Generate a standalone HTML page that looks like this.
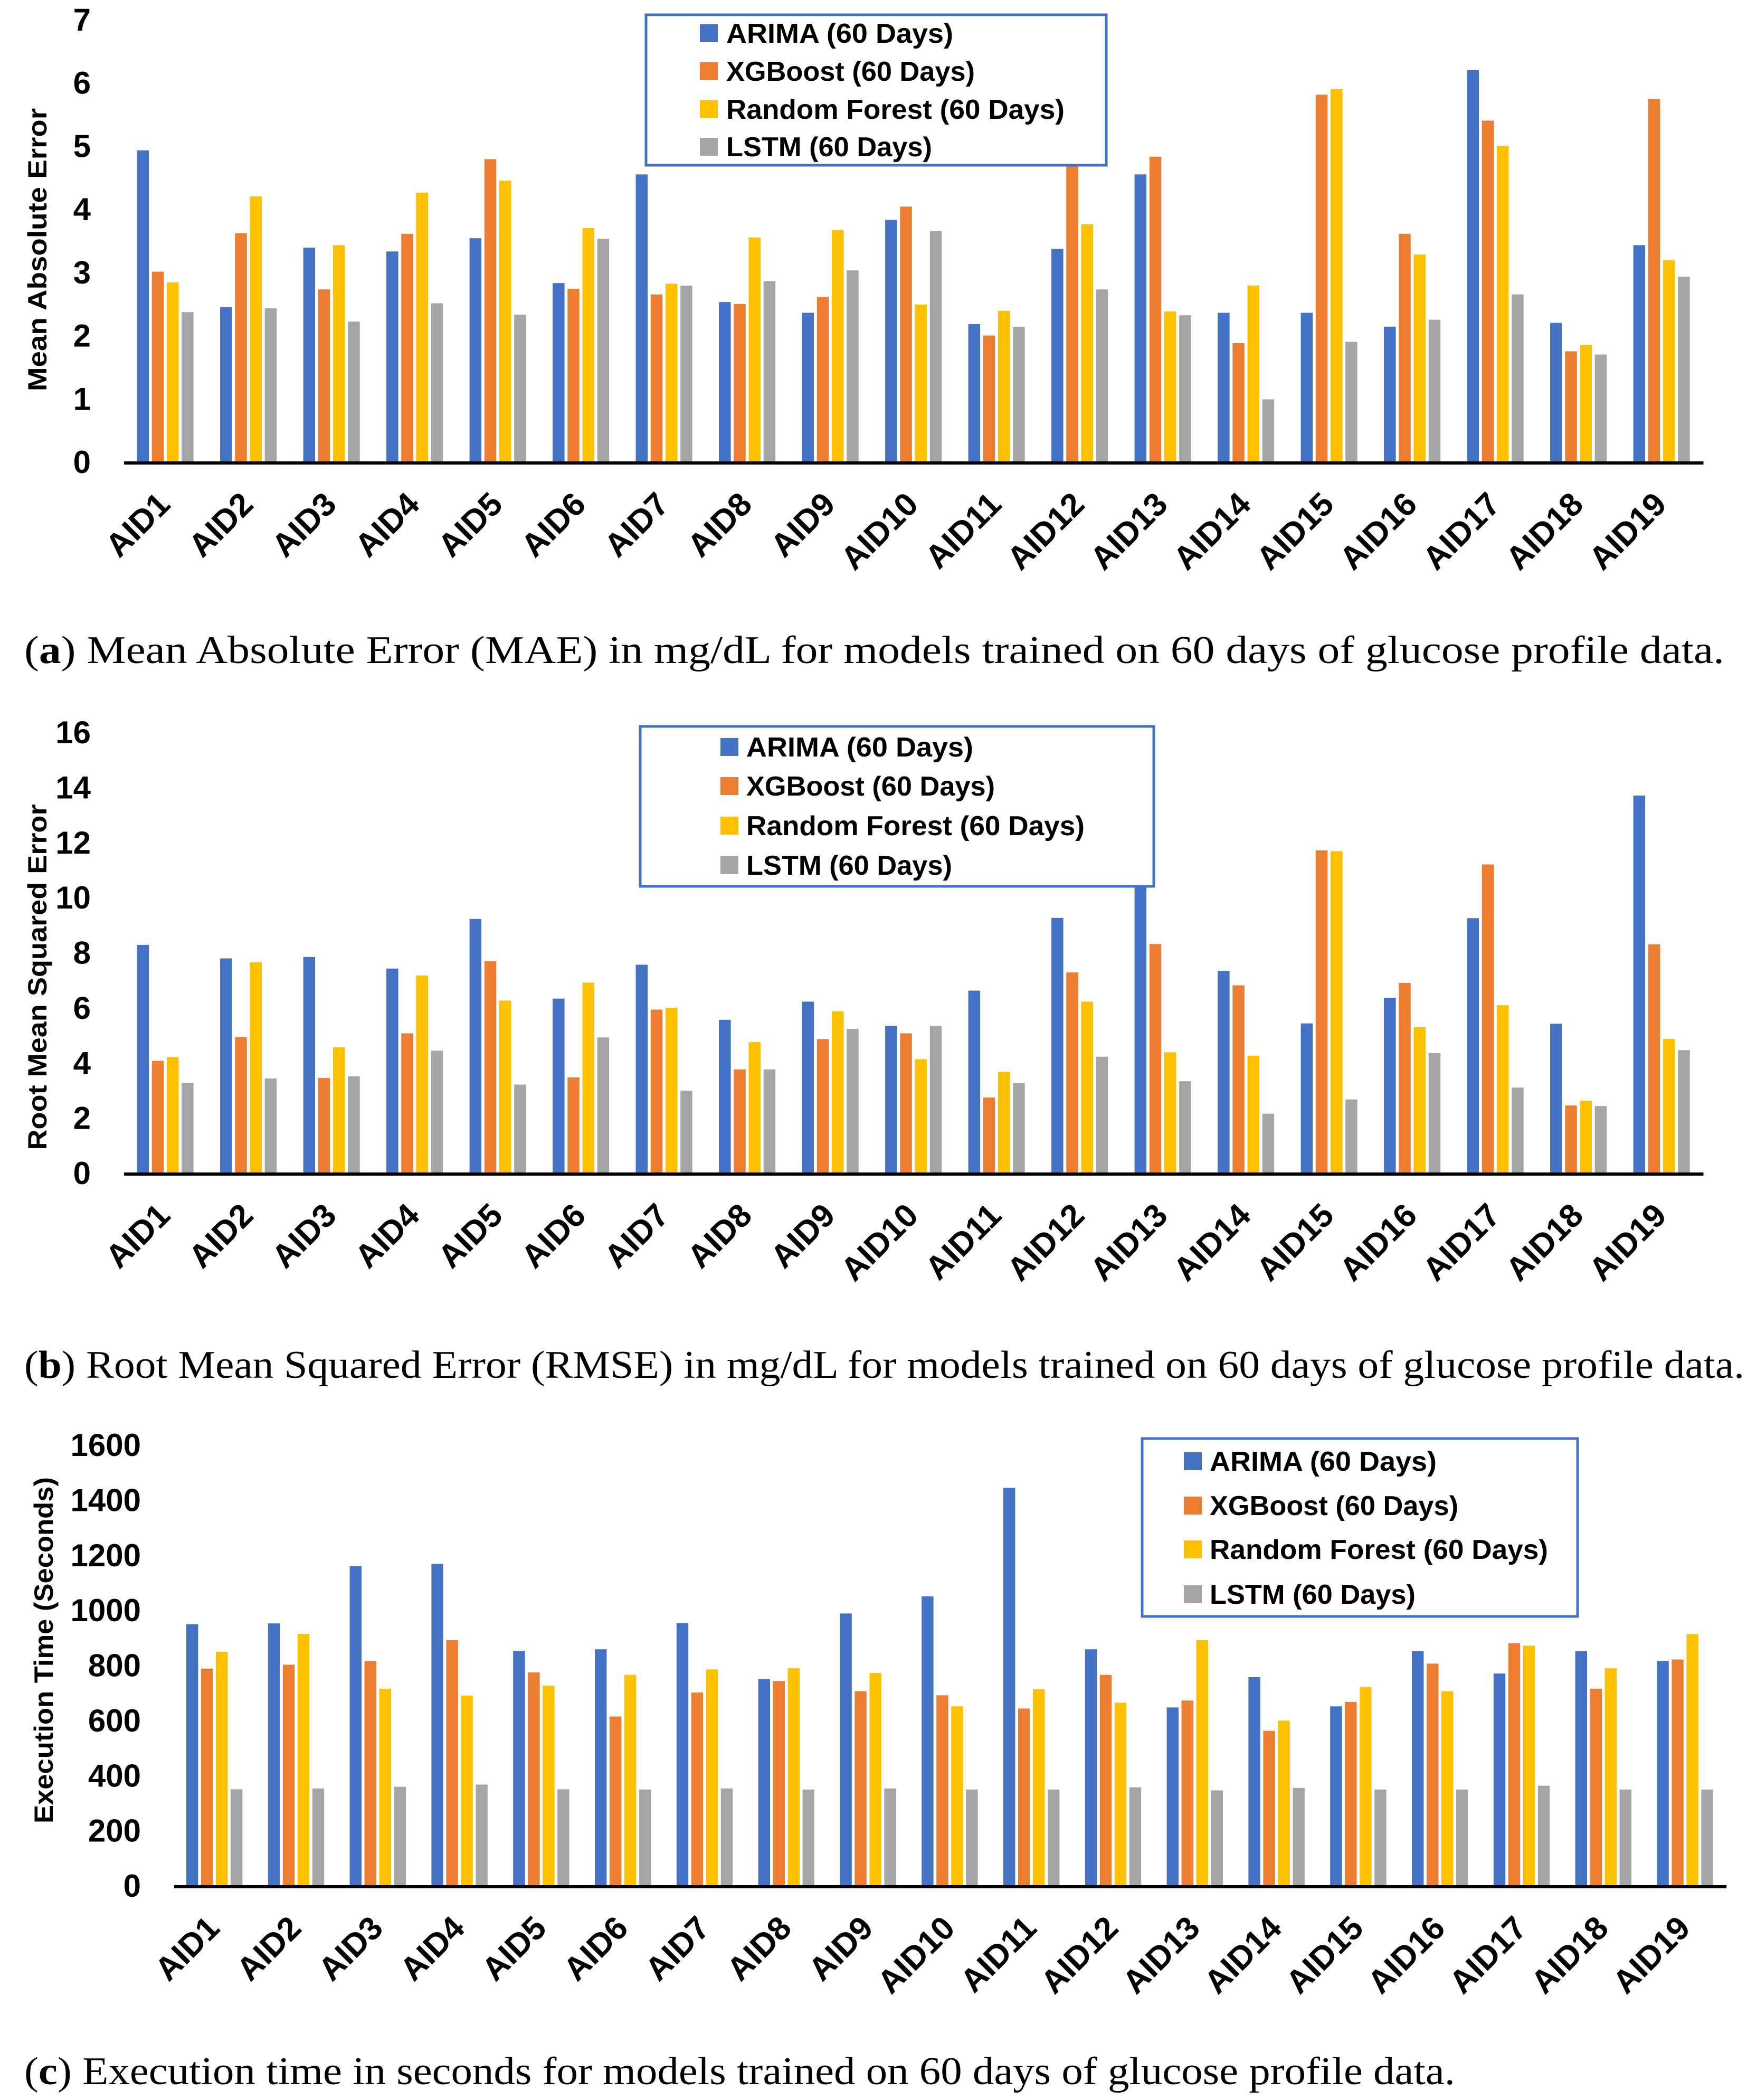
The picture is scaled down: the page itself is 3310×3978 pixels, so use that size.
<!DOCTYPE html>
<html><head><meta charset="utf-8"><style>
html,body{margin:0;padding:0;background:#fff;}
svg{display:block;}
text{font-family:"Liberation Sans",sans-serif;fill:#000;}
.tick{font-weight:bold;font-size:60px;}
.ytitle{font-weight:bold;font-size:50px;}
.xl{font-weight:bold;font-size:62px;}
.leg{font-weight:bold;font-size:52px;}
.cap{font-family:"Liberation Serif",serif;font-size:74px;}
</style></head><body>
<svg id="fig" width="3310" height="3978" viewBox="0 0 3310 3978" xmlns="http://www.w3.org/2000/svg">
<rect width="3310" height="3978" fill="#fff"/>
<g id="chartA"></g>
<g id="chartB"></g>
<g id="chartC"></g>
<text class="cap" x="46" y="1256" textLength="3221" lengthAdjust="spacingAndGlyphs">(<tspan font-weight="bold">a</tspan>) Mean Absolute Error (MAE) in mg/dL for models trained on 60 days of glucose profile data.</text>
<text class="cap" x="46" y="2610" textLength="3259" lengthAdjust="spacingAndGlyphs">(<tspan font-weight="bold">b</tspan>) Root Mean Squared Error (RMSE) in mg/dL for models trained on 60 days of glucose profile data.</text>
<text class="cap" x="46" y="3948" textLength="2711" lengthAdjust="spacingAndGlyphs">(<tspan font-weight="bold">c</tspan>) Execution time in seconds for models trained on 60 days of glucose profile data.</text>
</svg>
<script>
const categories = ["AID1","AID2","AID3","AID4","AID5","AID6","AID7","AID8","AID9","AID10","AID11","AID12","AID13","AID14","AID15","AID16","AID17","AID18","AID19"];
const seriesNames = ["ARIMA (60 Days)","XGBoost (60 Days)","Random Forest (60 Days)","LSTM (60 Days)"];
const maeArima = [4.93,2.45,3.39,3.33,3.54,2.83,4.55,2.53,2.36,3.83,2.18,3.37,4.55,2.36,2.36,2.14,6.2,2.2,3.43];
const maeXgb = [3.01,3.62,2.73,3.61,4.79,2.74,2.65,2.5,2.61,4.04,2.0,4.75,4.83,1.88,5.81,3.61,5.4,1.75,5.74];
const maeRf = [2.84,4.2,3.43,4.26,4.45,3.7,2.82,3.55,3.67,2.49,2.39,3.76,2.38,2.79,5.9,3.28,5.0,1.85,3.19];
const maeLstm = [2.37,2.43,2.22,2.51,2.33,3.53,2.79,2.86,3.03,3.65,2.14,2.73,2.32,0.99,1.9,2.25,2.65,1.7,2.93];
const maeTicks = ["0","1","2","3","4","5","6","7"];
const rmseArima = [8.28,7.79,7.84,7.42,9.22,6.33,7.56,5.56,6.22,5.34,6.62,9.26,10.47,7.34,5.43,6.36,9.25,5.42,13.7];
const rmseXgb = [4.07,4.93,3.45,5.07,7.69,3.47,5.93,3.76,4.86,5.07,2.74,7.28,8.31,6.81,11.71,6.9,11.2,2.45,8.3];
const rmseRf = [4.21,7.65,4.56,7.17,6.26,6.91,6.0,4.75,5.87,4.13,3.67,6.22,4.38,4.26,11.68,5.29,6.09,2.62,4.87];
const rmseLstm = [3.27,3.43,3.51,4.44,3.21,4.92,2.99,3.76,5.23,5.34,3.26,4.22,3.33,2.15,2.67,4.35,3.1,2.43,4.46];
const rmseTicks = ["0","2","4","6","8","10","12","14","16"];
const timeArima = [949,952,1160,1168,852,858,953,750,988,1050,1444,858,647,757,651,851,770,851,816];
const timeXgb = [788,802,815,891,774,614,701,743,706,691,643,765,672,562,667,806,880,715,821];
const timeRf = [849,914,715,690,726,765,785,789,772,651,713,664,891,599,721,706,871,789,913];
const timeLstm = [350,353,359,367,350,349,353,349,353,349,349,357,346,355,349,349,363,349,349];
const timeTicks = ["0","200","400","600","800","1000","1200","1400","1600"];

const colors = ["#4472C4","#ED7D31","#FFC000","#A5A5A5"];
const NS = "http://www.w3.org/2000/svg";
function mk(parent, tag, attrs, txt){
  const e = document.createElementNS(NS, tag);
  for (const k in attrs) e.setAttribute(k, attrs[k]);
  if (txt !== undefined) e.textContent = txt;
  parent.appendChild(e);
  return e;
}
const legendWidths = [430,471,641,390];

function drawChart(g, cfg, series, ticks){
  const tmax = parseFloat(ticks[ticks.length-1]);
  const yScale = v => cfg.y0 - (v / tmax) * (cfg.y0 - cfg.yTop);
  const xGroup = i => cfg.x0 + i * cfg.gw;
  ticks.forEach((t) => {
    const el = mk(g, "text", {class:"tick", x: cfg.tickX, y: yScale(parseFloat(t)) + 21, "text-anchor":"end"}, t);
    
    
  });
  const yt = mk(g, "text", {class:"ytitle", x:0, y:0, "text-anchor":"middle",
    transform:`translate(${cfg.titleX},${cfg.titleY}) rotate(-90)`, textLength: cfg.titleLen, lengthAdjust:"spacingAndGlyphs"}, cfg.title);
  
  
  categories.forEach((c, i) => {
    series.forEach((arr, s) => {
      const x = xGroup(i) + cfg.off + s * cfg.step;
      const y = yScale(arr[i]);
      const r = mk(g, "rect", {x:x, y:y, width:cfg.bw, height:cfg.y0 - y, fill:colors[s]});
      
      
    });
    const cx = xGroup(i) + cfg.gw/2 + 12, cy = cfg.y0 + 84;
    const lab = mk(g, "text", {class:"xl", x:0, y:0, "text-anchor":"end", transform:`translate(${cx},${cy}) rotate(-45)`}, c);
    
    
  });
  const ax = mk(g, "line", {x1:cfg.x0, x2:cfg.x0 + categories.length*cfg.gw, y1:cfg.y0+2, y2:cfg.y0+2, stroke:"#000", "stroke-width":6});
  
  
  const lg = mk(g, "g", {});
  
  
  mk(lg, "rect", {x:cfg.lx, y:cfg.ly, width:cfg.lw, height:cfg.lh, fill:"#fff", stroke:"#4472C4", "stroke-width":5});
  seriesNames.forEach((n, s) => {
    const cy = cfg.ey[s];
    const sw = mk(lg, "rect", {x:cfg.sx, y:cy-17, width:34, height:34, fill:colors[s]});
    
    
    const t = mk(lg, "text", {class:"leg", x:cfg.tx, y:cy+18, textLength:legendWidths[s], lengthAdjust:"spacingAndGlyphs"}, n);
    
    
  });
}

drawChart(document.getElementById("chartA"),
  {y0:875, yTop:37, x0:235, gw:157.5, off:24.6, step:28.2, bw:22.5, tickX:172,
   title:"Mean Absolute Error", titleX:88, titleY:473, titleLen:536,
   lx:1224, ly:28, lw:872, lh:285, sx:1326, tx:1376, ey:[63,135,207,278]},
  [maeArima, maeXgb, maeRf, maeLstm], maeTicks);

drawChart(document.getElementById("chartB"),
  {y0:2222, yTop:1387, x0:235, gw:157.5, off:24.6, step:28.2, bw:22.5, tickX:172,
   title:"Root Mean Squared Error", titleX:88, titleY:1851, titleLen:655,
   lx:1213, ly:1376, lw:973, lh:303, sx:1365, tx:1414, ey:[1415,1489,1564,1639]},
  [rmseArima, rmseXgb, rmseRf, rmseLstm], rmseTicks);

drawChart(document.getElementById("chartC"),
  {y0:3572, yTop:2737, x0:330, gw:154.8, off:23, step:28, bw:22.4, tickX:267,
   title:"Execution Time (Seconds)", titleX:100, titleY:3126, titleLen:656,
   lx:2164, ly:2725, lw:825, lh:337, sx:2243, tx:2292, ey:[2768,2852,2935,3020]},
  [timeArima, timeXgb, timeRf, timeLstm], timeTicks);
</script>
</body></html>
